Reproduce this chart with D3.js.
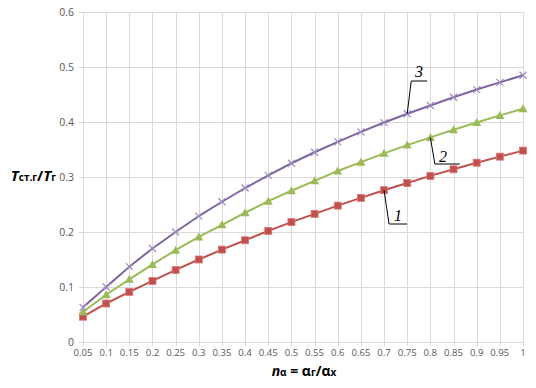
<!DOCTYPE html>
<html>
<head>
<meta charset="utf-8">
<script src="https://d3js.org/d3.v7.min.js"></script>
<style>
  body { margin: 0; background: #fff; }
  .tick-label { font-family: "Open Sans", sans-serif; font-size: 10.5px; fill: #595959; }
  .x-label { font-size: 9.6px; }
</style>
</head>
<body>
<div id="chart"></div>
<script>
// категории по оси X (n_alpha)
const categories = ["0.05","0.1","0.15","0.2","0.25","0.3","0.35","0.4","0.45","0.5",
                    "0.55","0.6","0.65","0.7","0.75","0.8","0.85","0.9","0.95","1"];
const yTicks = [0, 0.1, 0.2, 0.3, 0.4, 0.5, 0.6];

// кривая 1
const series1 = [0.046,0.070,0.091,0.111,0.131,0.150,0.168,0.185,0.202,0.218,
                 0.233,0.248,0.262,0.276,0.289,0.302,0.314,0.326,0.337,0.348];
// кривая 2
const series2 = [0.055,0.086,0.114,0.141,0.167,0.191,0.213,0.235,0.256,0.275,
                 0.293,0.311,0.327,0.343,0.358,0.372,0.386,0.399,0.412,0.424];
// кривая 3
const series3 = [0.063,0.100,0.137,0.170,0.200,0.229,0.255,0.280,0.303,0.325,
                 0.345,0.364,0.382,0.399,0.415,0.430,0.445,0.459,0.472,0.485];

const W = 536, H = 388;
const svg = d3.select("#chart").append("svg")
  .attr("width", W).attr("height", H);

const x = d3.scalePoint().domain(categories).range([83, 523]);
const y = d3.scaleLinear().domain([0, 0.6]).range([342, 12]);

// сетка
const grid = svg.append("g");
grid.selectAll(".hg").data(yTicks).enter().append("line")
  .attr("x1", 79).attr("x2", 523)
  .attr("y1", d => Math.round(y(d)) + 0.5).attr("y2", d => Math.round(y(d)) + 0.5)
  .attr("stroke", "#d9d9d9");
grid.selectAll(".vg").data(categories).enter().append("line")
  .attr("x1", d => Math.round(x(d)) + 0.5).attr("x2", d => Math.round(x(d)) + 0.5)
  .attr("y1", y(0.6)).attr("y2", y(0) + 4)
  .attr("stroke", "#d9d9d9");

// подписи осей
svg.append("g").selectAll("text").data(yTicks).enter().append("text")
  .attr("class", "tick-label")
  .attr("x", 74).attr("y", d => y(d) + 4)
  .attr("text-anchor", "end")
  .text(d => d);
svg.append("g").selectAll("text").data(categories).enter().append("text")
  .attr("class", "tick-label x-label")
  .attr("x", d => x(d)).attr("y", 356)
  .attr("text-anchor", "middle")
  .text(d => d);

// линии и маркеры
const all = [
  {name: "1", values: series1, color: "#C0504D", marker: "square"},
  {name: "2", values: series2, color: "#9BBB59", marker: "triangle"},
  {name: "3", values: series3, color: "#8064A2", marker: "cross"}
];
const line = d3.line().x((d, i) => x(categories[i])).y(d => y(d));

all.forEach(s => {
  svg.append("path").datum(s.values)
    .attr("d", line)
    .attr("fill", "none")
    .attr("stroke", s.color)
    .attr("stroke-width", 2);

  const g = svg.append("g");
  s.values.forEach((v, i) => {
    const cx = x(categories[i]), cy = y(v);
    if (s.marker === "square") {
      g.append("rect").attr("x", cx - 3.5).attr("y", cy - 3.5)
        .attr("width", 7).attr("height", 7)
        .attr("fill", s.color).attr("stroke", "#d77b79").attr("stroke-width", 0.8);
    } else if (s.marker === "triangle") {
      g.append("path")
        .attr("d", `M${cx},${cy - 4.5}L${cx + 4.5},${cy + 3.5}L${cx - 4.5},${cy + 3.5}Z`)
        .attr("fill", s.color);
    } else {
      g.append("path")
        .attr("d", `M${cx - 3.5},${cy - 3.5}L${cx + 3.5},${cy + 3.5}M${cx + 3.5},${cy - 3.5}L${cx - 3.5},${cy + 3.5}`)
        .attr("stroke", "#9c8bbd").attr("stroke-width", 1.2);
    }
  });
});

// выноски с номерами кривых
const callouts = [
  {s: 2, cat: "0.75", ex: 4, ey: 81, len: 16, tx: 419, ty: 77},
  {s: 1, cat: "0.8", ex: 4.5, ey: 164, len: 25, tx: 443, ty: 162},
  {s: 0, cat: "0.7", ex: 5, ey: 224, len: 18, tx: 398, ty: 221}
];
callouts.forEach(c => {
  const i = categories.indexOf(c.cat);
  const px = x(c.cat), py = y(all[c.s].values[i]);
  svg.append("path")
    .attr("d", `M${px},${py}L${px + c.ex},${c.ey}L${px + c.ex + c.len},${c.ey}`)
    .attr("fill", "none").attr("stroke", "#000").attr("stroke-width", 1);
  svg.append("text")
    .attr("x", c.tx).attr("y", c.ty)
    .attr("text-anchor", "middle")
    .style("font-family", "'Liberation Serif', serif")
    .style("font-style", "italic")
    .style("font-size", "16px")
    .text(all[c.s].name);
});

// заголовок оси Y
const yt = svg.append("text")
  .attr("x", 56).attr("y", 181)
  .attr("text-anchor", "end")
  .style("font-family", "'Open Sans', sans-serif")
  .style("font-weight", "bold")
  .attr("fill", "#000");
yt.append("tspan").style("font-style", "italic").style("font-size", "15px").text("T");
yt.append("tspan").style("font-size", "10px").text("ст.г");
yt.append("tspan").style("font-size", "15px").text("/");
yt.append("tspan").style("font-style", "italic").style("font-size", "15px").text("T");
yt.append("tspan").style("font-size", "10px").text("г");

// заголовок оси X
const xt = svg.append("text")
  .attr("x", 304).attr("y", 376)
  .attr("text-anchor", "middle")
  .style("font-family", "'Open Sans', sans-serif")
  .style("font-weight", "bold")
  .attr("fill", "#000");
xt.append("tspan").style("font-style", "italic").style("font-size", "14px").text("n");
xt.append("tspan").style("font-size", "10px").text("α");
xt.append("tspan").style("font-size", "14px").text(" = α");
xt.append("tspan").style("font-size", "10px").text("г");
xt.append("tspan").style("font-size", "14px").text("/α");
xt.append("tspan").style("font-size", "10px").text("х");
</script>
</body>
</html>
